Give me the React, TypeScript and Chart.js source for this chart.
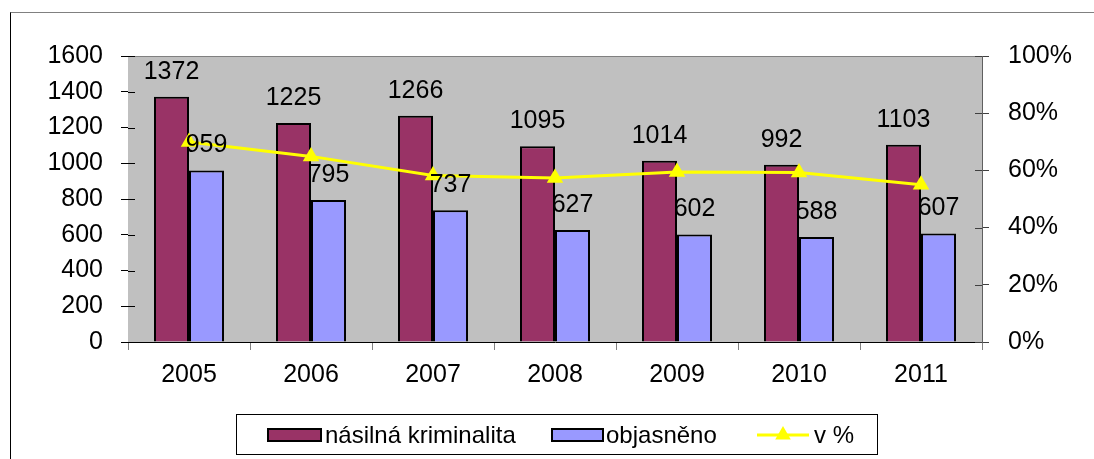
import React, { useEffect, useRef } from "react";
import { Chart, registerables } from "chart.js";

Chart.register(...registerables);

const categories = ["2005", "2006", "2007", "2008", "2009", "2010", "2011"];
const crimeValues = [1372, 1225, 1266, 1095, 1014, 992, 1103];
const solvedValues = [959, 795, 737, 627, 602, 588, 607];
const percentValues = [69.9, 64.9, 58.2, 57.3, 59.4, 59.3, 55.0];
const seriesNames = ["násilná kriminalita", "objasněno", "v %"];

const FONT = "'Liberation Sans', Arial, sans-serif";
const MAROON = "#993366";
const BLUE = "#9999FF";
const YELLOW = "#FFFF00";
const PLOT_BG = "#C0C0C0";

const plotArea = {
  id: "plotArea",
  beforeDatasetsDraw(chart: any) {
    const { ctx, chartArea: a } = chart;
    ctx.save();
    ctx.fillStyle = PLOT_BG;
    ctx.fillRect(a.left, a.top, a.right - a.left, a.bottom - a.top);
    ctx.strokeStyle = "#808080";
    ctx.lineWidth = 1;
    ctx.beginPath();
    ctx.moveTo(a.left, a.top + 0.5);
    ctx.lineTo(a.right, a.top + 0.5);
    ctx.stroke();
    const y = chart.scales.y;
    ctx.strokeStyle = "#000";
    y.ticks.forEach((_t: any, i: number) => {
      const py = Math.round(y.getPixelForTick(i)) + 0.5;
      ctx.beginPath();
      ctx.moveTo(a.left, py);
      ctx.lineTo(a.left + 7, py);
      ctx.stroke();
    });
    const y1 = chart.scales.y1;
    ctx.strokeStyle = "#404040";
    y1.ticks.forEach((_t: any, i: number) => {
      const py = Math.round(y1.getPixelForTick(i)) + 0.5;
      ctx.beginPath();
      ctx.moveTo(a.right - 7, py);
      ctx.lineTo(a.right, py);
      ctx.stroke();
    });
    ctx.restore();
  },
};

const valueLabels = {
  id: "valueLabels",
  afterDatasetsDraw(chart: any) {
    const { ctx } = chart;
    ctx.save();
    ctx.font = `25px ${FONT}`;
    ctx.fillStyle = "#000";
    ctx.textAlign = "center";
    ctx.textBaseline = "middle";
    [0, 1].forEach((di) => {
      const meta = chart.getDatasetMeta(di);
      const data = chart.data.datasets[di].data as number[];
      meta.data.forEach((el: any, i: number) => {
        ctx.fillText(String(data[i]), el.x, el.y - 25);
      });
    });
    ctx.restore();
  },
};

const customLegend = {
  id: "customLegend",
  afterDraw(chart: any) {
    const { ctx } = chart;
    ctx.save();
    ctx.strokeStyle = "#000";
    ctx.lineWidth = 1;
    ctx.strokeRect(236.5, 414.5, 641, 40);
    const cy = 435;
    ctx.fillStyle = MAROON;
    ctx.fillRect(268, 429, 53, 12);
    ctx.lineWidth = 2;
    ctx.strokeRect(268, 429, 53, 12);
    ctx.fillStyle = BLUE;
    ctx.fillRect(552, 429, 51, 12);
    ctx.strokeRect(552, 429, 51, 12);
    ctx.strokeStyle = YELLOW;
    ctx.lineWidth = 3;
    ctx.beginPath();
    ctx.moveTo(757, cy);
    ctx.lineTo(809, cy);
    ctx.stroke();
    ctx.fillStyle = YELLOW;
    ctx.beginPath();
    const r = 9;
    ctx.moveTo(783, cy - r);
    ctx.lineTo(783 + r * 0.866, cy + r * 0.5);
    ctx.lineTo(783 - r * 0.866, cy + r * 0.5);
    ctx.closePath();
    ctx.fill();
    ctx.fillStyle = "#000";
    ctx.font = `24px ${FONT}`;
    ctx.textAlign = "left";
    ctx.textBaseline = "alphabetic";
    ctx.fillText(seriesNames[0], 325, 443);
    ctx.fillText(seriesNames[1], 606, 443);
    ctx.fillText(seriesNames[2], 814, 443);
    ctx.restore();
  },
};

export default function App() {
  const ref = useRef<HTMLCanvasElement>(null);

  useEffect(() => {
    if (!ref.current) return;
    const chart = new Chart(ref.current, {
      type: "bar",
      data: {
        labels: categories,
        datasets: [
          {
            type: "bar",
            label: seriesNames[0],
            data: crimeValues,
            backgroundColor: MAROON,
            borderColor: "#000",
            borderWidth: 2,
            yAxisID: "y",
            categoryPercentage: 0.574,
            barPercentage: 1,
            order: 2,
          },
          {
            type: "bar",
            label: seriesNames[1],
            data: solvedValues,
            backgroundColor: BLUE,
            borderColor: "#000",
            borderWidth: 2,
            yAxisID: "y",
            categoryPercentage: 0.574,
            barPercentage: 1,
            order: 2,
          },
          {
            type: "line",
            label: seriesNames[2],
            data: percentValues,
            borderColor: YELLOW,
            backgroundColor: YELLOW,
            borderWidth: 3,
            pointStyle: "triangle",
            pointRadius: 9.5,
            pointBorderWidth: 0,
            pointBackgroundColor: YELLOW,
            yAxisID: "y1",
            order: 1,
          } as any,
        ],
      },
      options: {
        animation: false,
        responsive: false,
        maintainAspectRatio: false,
        layout: { padding: { top: 56, left: 0, right: 0, bottom: 0 } },
        plugins: {
          legend: { display: false },
          tooltip: { enabled: false },
        },
        scales: {
          x: {
            grid: {
              display: true,
              drawOnChartArea: false,
              offset: true,
              tickLength: 8,
              color: "#808080",
            },
            border: { display: true, color: "#000", width: 1 },
            ticks: {
              color: "#000",
              font: { family: FONT, size: 25 },
              padding: 10,
              maxRotation: 0,
            },
            afterFit: (s: any) => {
              s.height = 459 - 342;
            },
          },
          y: {
            position: "left",
            min: 0,
            max: 1600,
            ticks: {
              stepSize: 200,
              color: "#000",
              font: { family: FONT, size: 25 },
              padding: 18,
              callback: (v: any) => String(v),
            },
            grid: {
              drawOnChartArea: false,
              tickLength: 7,
              color: "#000",
            },
            border: { display: true, color: "#000", width: 1 },
            afterFit: (s: any) => {
              s.width = 128;
            },
          },
          y1: {
            position: "right",
            min: 0,
            max: 100,
            ticks: {
              stepSize: 20,
              color: "#000",
              font: { family: FONT, size: 25 },
              padding: 19,
              callback: (v: any) => `${v}%`,
            },
            grid: {
              drawOnChartArea: false,
              tickLength: 7,
              color: "#404040",
            },
            border: { display: true, color: "#606060", width: 1 },
            afterFit: (s: any) => {
              s.width = 1094 - 982;
            },
          },
        },
      },
      plugins: [plotArea, valueLabels, customLegend],
    });
    return () => chart.destroy();
  }, []);

  return (
    <div
      style={{
        position: "fixed",
        left: 0,
        top: 0,
        width: 1094,
        height: 459,
        overflow: "hidden",
        background: "#fff",
      }}
    >
      <div
        style={{
          position: "absolute",
          left: 10,
          top: 12,
          width: 1200,
          height: 600,
          borderLeft: "1px solid #000",
          borderTop: "1px solid #808080",
        }}
      />
      <canvas
        ref={ref}
        width={1094}
        height={459}
        style={{ position: "absolute", left: 0, top: 0, width: 1094, height: 459 }}
      />
    </div>
  );
}
